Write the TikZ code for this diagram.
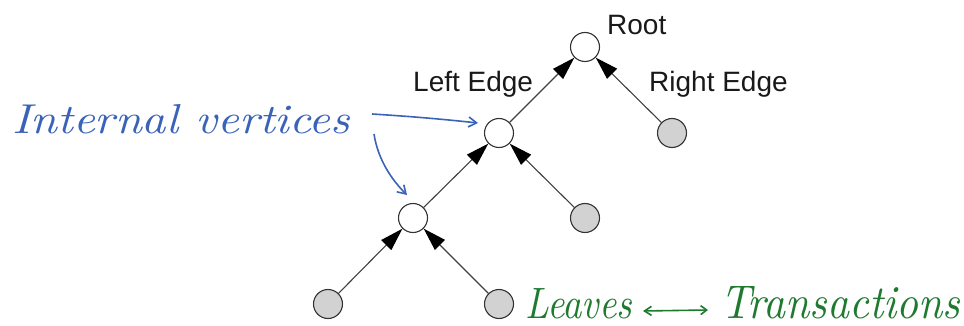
\documentclass[tikz,border=0pt]{standalone}
\usepackage{fontspec}
\usepackage{graphicx}
\setmainfont{Liberation Sans}
\newfontfamily\handfont{Latin Modern Roman}
\usetikzlibrary{arrows.meta}
\definecolor{inkblue}{HTML}{3A63B8}
\definecolor{inkgreen}{HTML}{1F7A30}
\definecolor{leafgray}{HTML}{D2D2D2}
\tikzset{
  vert/.style={circle, draw=black!80, line width=1.1pt, fill=white, minimum size=29pt, inner sep=0pt},
  leaf/.style={vert, fill=leafgray},
  edge/.style={draw=black!75, line width=1.1pt, -{Triangle[length=23pt,width=14pt,fill=black,color=black]}},
  lbl/.style={anchor=base west, inner sep=0pt, font=\fontsize{28}{30}\selectfont, text=black!90},
  hand/.style={anchor=base west, inner sep=0pt},
  bluearrow/.style={draw=inkblue, line width=1.6pt, -{Straight Barb[length=8pt,width=10pt]}},
  greenarrow/.style={draw=inkgreen, line width=1.6pt, {Straight Barb[length=7pt,width=9pt]}-{Straight Barb[length=6pt,width=9pt]}}
}
\begin{document}
\begin{tikzpicture}[x=1pt,y=-1pt]
\useasboundingbox (0,0) rectangle (964,326);
% vertices
\node[vert] (root) at (585,47) {};
\node[vert] (li) at (499,133) {};
\node[leaf] (rl) at (672,133) {};
\node[vert] (ll) at (413,218) {};
\node[leaf] (ml) at (585,218) {};
\node[leaf] (b1) at (328,304) {};
\node[leaf] (b2) at (499,304) {};
% edges
\draw[edge] (li) -- (root);
\draw[edge] (rl) -- (root);
\draw[edge] (ll) -- (li);
\draw[edge] (ml) -- (li);
\draw[edge] (b1) -- (ll);
\draw[edge] (b2) -- (ll);
% labels
\node[lbl] (troot) at (607,35) {Root};
\node[lbl] (tle) at (413,92) {Left Edge};
\node[lbl] (tre) at (649,92) {Right Edge};
% handwritten annotations
\node[hand, text=inkblue] (iv) at (12,134) {\resizebox{338pt}{29pt}{\handfont\itshape Internal vertices}};
\coordinate (a1s) at (372,114);
\coordinate (a1e) at (478,123);
\coordinate (a2s) at (374,134);
\coordinate (a2e) at (407,195);
\draw[bluearrow] (a1s) .. controls (420,117) and (450,120) .. (a1e);
\draw[bluearrow] (a2s) .. controls (378,160) and (392,180) .. (a2e);
\node[hand, text=inkgreen] (lv) at (525,318) {\resizebox{107pt}{30pt}{\handfont\itshape Leaves}};
\node[hand, text=inkgreen] (tr) at (720,318) {\resizebox{240pt}{32pt}{\handfont\itshape Transactions}};
\coordinate (g1) at (643,311);
\coordinate (g2) at (708,310);
\draw[greenarrow] (g1) -- (g2);
\end{tikzpicture}
\end{document}
